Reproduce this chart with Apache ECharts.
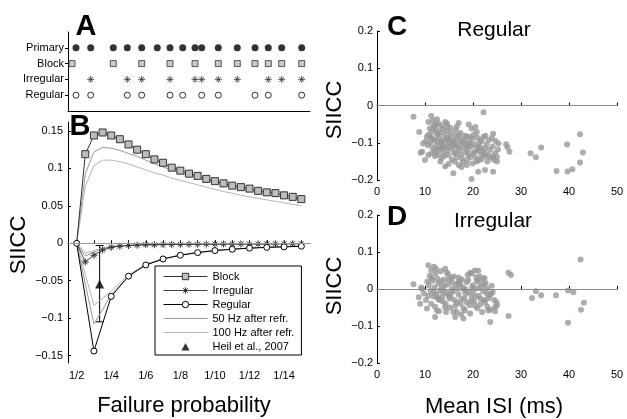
<!DOCTYPE html>
<html>
<head>
<meta charset="utf-8">
<script src="https://cdn.jsdelivr.net/npm/echarts@6/dist/echarts.min.js"></script>
<style>
  html, body { margin: 0; padding: 0; background: #fff; }
  #chart { width: 627px; height: 419px; }
</style>
</head>
<body>
<div id="chart"></div>
<script>
// panel A: spike trains (time in px-like units along the train)
const rowNames = ['', 'Regular', 'Irregular', 'Block', 'Primary'];
const primaryT = [8, 22.7, 45.3, 59.3, 73.7, 89.3, 102, 114.7, 127, 133.7, 150.3, 169.3, 187, 200.3, 213.7, 233.7];
const blockT = [4, 45.3, 73.7, 102, 127, 150.3, 169.3, 187, 200.3, 213.7, 233.7];
const irregularT = [22.7, 59.3, 73.7, 102, 127, 133.7, 150.3, 169.3, 200.3, 213.7, 233.7];
const regularT = [8, 22.7, 59.3, 73.7, 102, 114.7, 133.7, 150.3, 187, 200.3, 233.7];

// panel B: SIICC vs failure probability (1/n)
const nHalf = [2, 2.5, 3, 3.5, 4, 4.5, 5, 5.5, 6, 6.5, 7, 7.5, 8, 8.5, 9, 9.5, 10, 10.5, 11, 11.5, 12, 12.5, 13, 13.5, 14, 14.5, 15];
const nInt = [2, 3, 4, 5, 6, 7, 8, 9, 10, 11, 12, 13, 14, 15];
const failTicks = [2, 4, 6, 8, 10, 12, 14];
const siiccTicks = [-0.15, -0.1, -0.05, 0, 0.05, 0.1, 0.15];

const blockSIICC = [0, 0.119, 0.144, 0.148, 0.144, 0.139, 0.132, 0.125, 0.119, 0.112, 0.1075, 0.101, 0.097, 0.093, 0.090, 0.086, 0.083, 0.080, 0.077, 0.075, 0.073, 0.070, 0.068, 0.067, 0.064, 0.062, 0.059];
const irregularSIICC = [0, -0.025, -0.016, -0.009, -0.0055, -0.004, -0.003, -0.0025, -0.002, -0.002, -0.0018, -0.0016, -0.0015, -0.0014, -0.0013, -0.0012, -0.0011, -0.001, -0.001, -0.0009, -0.0009, -0.0008, -0.0008, -0.0007, -0.0007, -0.0006, -0.0006];
const regularSIICC = [0, -0.144, -0.071, -0.044, -0.029, -0.021, -0.016, -0.0125, -0.0098, -0.008, -0.0065, -0.0055, -0.0048, -0.004];

const block50 = [0, 0.093, 0.122, 0.128, 0.127, 0.124, 0.120, 0.116, 0.111, 0.106, 0.102, 0.098, 0.094, 0.090, 0.087, 0.084, 0.081, 0.078, 0.075, 0.072, 0.070, 0.067, 0.065, 0.063, 0.061, 0.059, 0.057];
const block100 = [0, 0.076, 0.104, 0.111, 0.111, 0.109, 0.106, 0.102, 0.098, 0.094, 0.091, 0.087, 0.084, 0.081, 0.078, 0.075, 0.072, 0.069, 0.067, 0.064, 0.062, 0.060, 0.058, 0.056, 0.054, 0.052, 0.050];
const irregular50 = [0, -0.017, -0.012, -0.007, -0.0045, -0.0035, -0.003, -0.0025, -0.002, -0.002, -0.0018, -0.0016, -0.0015, -0.0014, -0.0013, -0.0012, -0.0011, -0.001, -0.001, -0.0009, -0.0009, -0.0008, -0.0008, -0.0007, -0.0007, -0.0006, -0.0006];
const irregular100 = [0, -0.013, -0.010, -0.006, -0.004, -0.003, -0.0027, -0.0022, -0.0019, -0.0018, -0.0016, -0.0015, -0.0014, -0.0013, -0.0012, -0.0011, -0.001, -0.001, -0.0009, -0.0009, -0.0008, -0.0008, -0.0007, -0.0007, -0.0006, -0.0006, -0.0005];
const regular50 = [0, -0.108, -0.069, -0.044, -0.029, -0.021, -0.016, -0.0125, -0.0098, -0.008, -0.0065, -0.0055, -0.0048, -0.004];
const regular100 = [0, -0.083, -0.064, -0.042, -0.028, -0.0205, -0.0155, -0.012, -0.0095, -0.0078, -0.0063, -0.0053, -0.0046, -0.0039];

const heilN = 3.33, heilMean = -0.0546, heilLow = -0.105, heilHigh = -0.003;

// panels C and D: SIICC vs mean ISI (ms)
const regularISI = [
  [7.6,-0.030],[11.3,-0.028],[22.2,-0.018],[8.8,-0.071],[10.7,-0.044],[11.8,-0.053],[12.8,-0.048],[14.2,-0.044],[14.6,-0.057],[16.6,-0.057],
  [17.0,-0.079],[19.7,-0.062],[20.8,-0.071],[22.2,-0.084],[23.9,-0.088],[25.3,-0.102],[10.4,-0.084],[11.4,-0.088],[12.5,-0.075],[13.5,-0.097],
  [14.9,-0.088],[15.9,-0.106],[17.7,-0.097],[18.7,-0.084],[19.4,-0.106],[21.1,-0.111],[22.5,-0.115],[9.4,-0.124],[10.7,-0.133],[12.1,-0.124],
  [13.5,-0.115],[14.9,-0.133],[16.3,-0.128],[17.7,-0.142],[19.0,-0.133],[20.4,-0.124],[21.8,-0.133],[23.2,-0.133],[24.6,-0.128],[10.0,-0.146],
  [14.2,-0.164],[17.0,-0.160],[18.7,-0.160],[21.1,-0.146],[22.5,-0.137],[24.2,-0.137],[15.9,-0.182],[19.7,-0.197],[21.1,-0.178],[22.5,-0.173],
  [24.2,-0.178],[25.0,-0.150],[26.9,-0.104],[27.2,-0.112],[27.6,-0.124],[32.0,-0.128],[33.1,-0.139],[34.2,-0.113],[37.4,-0.176],[39.6,-0.105],
  [39.7,-0.177],[40.7,-0.171],[42.3,-0.077],[42.9,-0.126],[42.3,-0.153],
  [11.0,-0.062],[11.5,-0.070],[11.9,-0.058],[12.3,-0.066],[12.7,-0.080],[13.1,-0.072],[13.6,-0.063],[14.0,-0.078],[14.5,-0.069],[15.0,-0.085],
  [15.4,-0.074],[15.9,-0.091],[16.3,-0.081],[16.8,-0.095],[17.3,-0.088],[17.8,-0.102],[18.2,-0.093],[18.7,-0.110],[19.2,-0.099],[19.8,-0.090],
  [20.3,-0.104],[20.9,-0.117],[21.4,-0.098],[22.0,-0.121],[22.8,-0.105],[23.5,-0.119],[24.1,-0.110],[10.2,-0.096],[10.6,-0.107],[11.1,-0.101],
  [11.6,-0.114],[12.0,-0.093],[12.4,-0.108],[12.9,-0.118],[13.3,-0.104],[13.8,-0.125],[14.3,-0.112],[14.7,-0.121],[15.2,-0.099],[15.7,-0.116],
  [16.1,-0.127],[16.6,-0.109],[17.1,-0.120],[17.5,-0.131],[18.0,-0.115],[18.5,-0.126],[19.0,-0.118],[19.5,-0.138],[20.0,-0.128],[20.6,-0.140],
  [21.2,-0.123],[21.7,-0.145],[22.4,-0.128],[23.0,-0.150],[23.7,-0.140],[24.4,-0.146],[25.0,-0.138],[10.8,-0.078],[11.3,-0.085],[11.8,-0.092],
  [12.2,-0.052],[12.6,-0.097],[13.0,-0.088],[13.4,-0.055],[13.9,-0.094],[14.4,-0.088],[14.8,-0.101],[15.3,-0.060],[15.8,-0.104],[16.4,-0.066],
  [16.9,-0.112],[17.4,-0.074],[18.4,-0.081],[19.3,-0.084],[20.2,-0.078],[21.0,-0.087],[21.8,-0.095],[22.6,-0.081],[23.3,-0.093],[24.2,-0.076],
  [11.4,-0.128],[12.1,-0.136],[12.8,-0.132],[13.5,-0.141],[14.1,-0.135],[15.6,-0.145],[16.7,-0.139],[17.9,-0.152],[18.8,-0.146],[19.9,-0.156],
  [20.8,-0.150],[13.2,-0.150],[14.9,-0.157],[16.2,-0.150],[17.6,-0.165],[9.6,-0.102],[9.1,-0.127],[11.7,-0.040],[12.5,-0.037],[14.6,-0.048],
  [17.0,-0.047],[19.1,-0.051],[20.5,-0.058],[24.7,-0.095],[25.2,-0.118],[12.4,-0.119],[13.7,-0.108],[15.1,-0.113],[16.0,-0.098],[18.6,-0.104],
  [19.6,-0.110],[21.5,-0.112]
];
const irregularISI = [
  [7.6,0.013],[10.7,0.064],[11.3,0.051],[14.2,0.055],[14.6,0.044],[17.0,0.031],[19.4,0.044],[21.1,0.049],[22.0,0.027],[20.8,0.022],
  [9.4,0.000],[8.7,-0.022],[9.0,-0.040],[10.4,-0.053],[12.5,-0.058],[14.2,-0.049],[15.9,-0.062],[16.3,-0.076],[18.0,-0.080],[12.1,-0.076],
  [24.6,-0.049],[24.9,-0.036],[23.9,0.009],[22.9,-0.013],[21.6,-0.027],[19.7,-0.018],[18.4,0.000],[17.3,0.013],[15.6,0.018],[13.5,0.004],
  [11.8,-0.009],[10.7,-0.018],[12.8,-0.027],[14.9,-0.018],[16.6,-0.036],[18.7,-0.036],[20.4,-0.045],[22.5,-0.036],[23.2,-0.058],
  [27.4,0.044],[27.9,0.038],[33.1,-0.006],[32.3,-0.024],[34.2,-0.017],[37.3,-0.017],[39.8,-0.004],[40.9,-0.009],[42.4,0.080],[43.1,-0.037],
  [42.5,-0.056],[39.8,-0.091],[27.4,-0.073],[23.6,-0.089],
  [10.8,0.010],[11.2,-0.005],[11.6,0.022],[12.0,0.004],[12.4,-0.014],[12.8,0.015],[13.2,-0.004],[13.6,-0.022],[14.0,0.008],[14.5,-0.011],
  [14.9,0.026],[15.3,-0.020],[15.7,0.002],[16.1,-0.030],[16.5,0.012],[17.0,-0.015],[17.4,-0.040],[17.8,0.005],[18.2,-0.024],[18.7,0.018],
  [19.1,-0.008],[19.6,-0.032],[20.0,0.010],[20.5,-0.020],[21.0,0.002],[21.5,-0.042],[22.1,-0.006],[22.6,0.016],[23.2,-0.025],[23.8,-0.012],
  [24.4,-0.030],[25.0,-0.044],[11.0,0.036],[11.4,0.030],[11.8,-0.020],[12.2,0.042],[12.6,0.028],[13.0,-0.030],[13.4,0.020],[13.8,-0.010],
  [14.3,-0.040],[14.7,0.012],[15.1,-0.026],[15.5,0.030],[15.9,-0.006],[16.3,-0.046],[16.8,0.000],[17.2,0.022],[17.6,-0.028],[18.0,-0.052],
  [18.5,-0.012],[18.9,0.038],[19.3,-0.044],[19.8,0.004],[20.2,-0.034],[20.7,0.032],[21.2,-0.018],[21.7,0.008],[22.3,-0.030],[22.9,0.002],
  [23.5,-0.016],[24.1,-0.008],[10.2,-0.030],[10.5,0.020],[9.8,-0.012],[9.2,0.004],[11.3,-0.040],[12.1,-0.048],[12.9,-0.060],[13.7,-0.034],
  [14.4,-0.062],[15.2,-0.050],[16.6,-0.062],[17.5,-0.068],[18.3,-0.058],[19.4,-0.066],[20.9,-0.052],[21.9,-0.062],[23.0,-0.048],[11.9,0.060],
  [12.3,0.054],[13.3,0.048],[14.8,0.040],[16.0,0.034],[17.7,0.026],[19.7,0.042],[20.4,0.050],[21.4,0.034],[22.4,0.030],[23.6,-0.056],
  [24.6,-0.060],[12.7,-0.024],[13.9,0.026],[15.4,-0.010],[16.9,0.016],[18.1,-0.002],[19.0,0.024],[20.1,-0.006],[21.1,0.020],[22.2,0.012]
];

const FONT = '"Liberation Sans", Arial, sans-serif';
const STAR = 'path://M0,5L10,5M5,0L5,10M1.5,1.5L8.5,8.5M8.5,1.5L1.5,8.5';
// triangle icon padded to the legend item box so it is not stretched
const TRI_ICON = 'path://M0,0M44,8M18,8L22,0.5L26,8Z';
const minus = v => (v === 0 ? '0' : (v < 0 ? '\u2212' : '') + Math.abs(+v.toFixed(3)));

const chart = echarts.init(document.getElementById('chart'));

function txt(text, x, y, size, bold, rot) {
  return {
    type: 'text', x: x, y: y, rotation: rot || 0, silent: true,
    style: { text: text, fill: '#000', align: 'center', verticalAlign: 'middle',
      font: (bold ? 'bold ' : '') + size + 'px ' + FONT }
  };
}

const axisLine = { show: true, lineStyle: { color: '#000', width: 1 } };
const axisLabel = { color: '#000', fontSize: 11, fontFamily: FONT };

function isiX(idx) {
  return { gridIndex: idx, type: 'value', min: 0, max: 50, interval: 10,
    axisLine: axisLine, axisTick: { show: true, inside: true, length: 3, lineStyle: { color: '#000' } },
    axisLabel: Object.assign({ margin: 6 }, axisLabel), splitLine: { show: false } };
}
function isiY(idx) {
  return { gridIndex: idx, type: 'value', min: -0.2, max: 0.2, interval: 0.1,
    axisLine: axisLine, axisTick: { show: true, inside: true, length: 3, lineStyle: { color: '#000' } },
    axisLabel: Object.assign({ margin: 4, formatter: minus }, axisLabel), splitLine: { show: false } };
}

const zeroLine = (color) => ({
  silent: true, symbol: 'none', label: { show: false },
  lineStyle: { color: color, width: 1, type: 'solid' },
  data: [{ yAxis: 0 }]
});

const noFx = { emphasis: { disabled: true }, animation: false };

function grayLine(name, xs, ys, color) {
  return Object.assign({
    name: name, type: 'line', xAxisIndex: 1, yAxisIndex: 1, symbol: 'none',
    lineStyle: { color: color, width: 1 }, itemStyle: { color: color },
    data: xs.map((n, i) => [n, ys[i]])
  }, noFx);
}

const option = {
  animation: false,
  grid: [
    { left: 68, top: 32, width: 242, height: 79 },
    { left: 68, top: 122, width: 242, height: 241 },
    { left: 377, top: 31, width: 240, height: 149 },
    { left: 377, top: 215, width: 240, height: 148 }
  ],
  xAxis: [
    { gridIndex: 0, type: 'value', min: 0, max: 242, axisLine: axisLine,
      axisTick: { show: false }, axisLabel: { show: false }, splitLine: { show: false } },
    { gridIndex: 1, type: 'value', min: 1.5, max: 15.5, axisLine: axisLine,
      axisTick: { show: true, inside: true, length: 3, customValues: nInt, lineStyle: { color: '#000' } },
      axisLabel: Object.assign({ margin: 7, customValues: failTicks, formatter: v => '1/' + v }, axisLabel),
      splitLine: { show: false } },
    isiX(2), isiX(3)
  ],
  yAxis: [
    { gridIndex: 0, type: 'value', min: 0, max: 5, axisLine: axisLine,
      axisTick: { show: true, inside: false, length: 3, customValues: [1, 2, 3, 4], lineStyle: { color: '#000' } },
      axisLabel: Object.assign({ margin: 4, customValues: [1, 2, 3, 4], formatter: v => rowNames[v] }, axisLabel),
      splitLine: { show: false } },
    { gridIndex: 1, type: 'value', min: -0.16, max: 0.162, axisLine: axisLine,
      axisTick: { show: true, inside: true, length: 3, customValues: siiccTicks, lineStyle: { color: '#000' } },
      axisLabel: Object.assign({ margin: 5, customValues: siiccTicks, formatter: minus }, axisLabel),
      splitLine: { show: false } },
    isiY(2), isiY(3)
  ],
  legend: {
    orient: 'vertical', left: 155, top: 266,
    padding: [5, 7, 3, 8], itemGap: 3, itemWidth: 44, itemHeight: 8,
    backgroundColor: '#fff', borderColor: '#000', borderWidth: 1, borderRadius: 0,
    selectedMode: false, symbolKeepAspect: true,
    itemStyle: { borderWidth: 1 },
    lineStyle: { width: 1 },
    textStyle: { color: '#000', fontSize: 11, fontFamily: FONT },
    data: [
      { name: 'Block' },
      { name: 'Irregular' },
      { name: 'Regular' },
      { name: '50 Hz after refr.', itemStyle: { opacity: 0 } },
      { name: '100 Hz after refr.', itemStyle: { opacity: 0 } },
      { name: 'Heil et al., 2007', icon: TRI_ICON, itemStyle: { borderWidth: 0 } }
    ]
  },
  graphic: [
    txt('A', 86, 27, 29, true),
    txt('B', 80, 127, 29, true),
    txt('C', 397, 27, 28, true),
    txt('D', 397, 217, 28, true),
    txt('Regular', 494, 30, 21, false),
    txt('Irregular', 493, 221, 21, false),
    txt('SIICC', 19, 245, 22, false, Math.PI / 2),
    txt('SIICC', 335, 110, 22, false, Math.PI / 2),
    txt('SIICC', 335, 286, 22, false, Math.PI / 2),
    txt('Failure probability', 184, 406, 22, false),
    txt('Mean ISI (ms)', 494, 407, 22, false)
  ],
  series: [
    // panel A
    Object.assign({ name: 'trainPrimary', type: 'scatter', xAxisIndex: 0, yAxisIndex: 0,
      symbol: 'circle', symbolSize: 7, itemStyle: { color: '#000' },
      data: primaryT.map(t => [t, 4]) }, noFx),
    Object.assign({ name: 'trainBlock', type: 'scatter', xAxisIndex: 0, yAxisIndex: 0,
      symbol: 'rect', symbolSize: 6, itemStyle: { color: '#bdbdbd', borderColor: '#333', borderWidth: 1 },
      data: blockT.map(t => [t, 3]) }, noFx),
    Object.assign({ name: 'trainIrregular', type: 'scatter', xAxisIndex: 0, yAxisIndex: 0,
      symbol: STAR, symbolSize: 7, itemStyle: { color: '#333', borderColor: '#333', borderWidth: 1 },
      data: irregularT.map(t => [t, 2]) }, noFx),
    Object.assign({ name: 'trainRegular', type: 'scatter', xAxisIndex: 0, yAxisIndex: 0,
      symbol: 'circle', symbolSize: 6, itemStyle: { color: '#fff', borderColor: '#000', borderWidth: 1 },
      data: regularT.map(t => [t, 1]) }, noFx),

    // panel B gray model curves
    grayLine('50 Hz after refr.', nHalf, block50, '#999'),
    grayLine('100 Hz after refr.', nHalf, block100, '#b4b4b4'),
    grayLine('50 Hz after refr.', nHalf, irregular50, '#999'),
    grayLine('100 Hz after refr.', nHalf, irregular100, '#b4b4b4'),
    grayLine('50 Hz after refr.', nInt, regular50, '#999'),
    grayLine('100 Hz after refr.', nInt, regular100, '#b4b4b4'),

    Object.assign({ name: 'Block', type: 'line', xAxisIndex: 1, yAxisIndex: 1,
      symbol: 'rect', symbolSize: 7, showSymbol: true,
      lineStyle: { color: '#333', width: 1 },
      itemStyle: { color: '#bdbdbd', borderColor: '#333', borderWidth: 1 },
      data: nHalf.map((n, i) => i === 0 ? { value: [n, blockSIICC[i]], symbol: 'none' } : [n, blockSIICC[i]]) }, noFx),
    Object.assign({ name: 'Irregular', type: 'line', xAxisIndex: 1, yAxisIndex: 1,
      symbol: STAR, symbolSize: 7, showSymbol: true,
      lineStyle: { color: '#444', width: 1 },
      itemStyle: { color: '#333', borderColor: '#333', borderWidth: 1 },
      data: nHalf.map((n, i) => i === 0 ? { value: [n, irregularSIICC[i]], symbol: 'none' } : [n, irregularSIICC[i]]) }, noFx),
    Object.assign({ name: 'Regular', type: 'line', xAxisIndex: 1, yAxisIndex: 1,
      symbol: 'circle', symbolSize: 6, showSymbol: true,
      lineStyle: { color: '#000', width: 1 },
      itemStyle: { color: '#fff', borderColor: '#000', borderWidth: 1 },
      markLine: zeroLine('#999'),
      data: nInt.map((n, i) => [n, regularSIICC[i]]) }, noFx),

    Object.assign({ name: 'heilRange', type: 'custom', xAxisIndex: 1, yAxisIndex: 1,
      data: [[heilN, heilLow, heilHigh]],
      renderItem: function (params, api) {
        const lo = api.coord([api.value(0), api.value(1)]);
        const hi = api.coord([api.value(0), api.value(2)]);
        const st = { stroke: '#000', lineWidth: 1 };
        return { type: 'group', children: [
          { type: 'line', shape: { x1: lo[0], y1: lo[1], x2: hi[0], y2: hi[1] }, style: st },
          { type: 'line', shape: { x1: lo[0] - 4, y1: lo[1], x2: lo[0] + 4, y2: lo[1] }, style: st },
          { type: 'line', shape: { x1: hi[0] - 4, y1: hi[1], x2: hi[0] + 4, y2: hi[1] }, style: st }
        ] };
      } }, noFx),
    Object.assign({ name: 'Heil et al., 2007', type: 'scatter', xAxisIndex: 1, yAxisIndex: 1,
      symbol: 'triangle', symbolSize: 9, itemStyle: { color: '#000' },
      data: [[heilN, heilMean]] }, noFx),

    // panels C and D
    Object.assign({ name: 'regularCells', type: 'scatter', xAxisIndex: 2, yAxisIndex: 2,
      symbolSize: 6, itemStyle: { color: '#999' }, markLine: zeroLine('#888'),
      data: regularISI }, noFx),
    Object.assign({ name: 'irregularCells', type: 'scatter', xAxisIndex: 3, yAxisIndex: 3,
      symbolSize: 6, itemStyle: { color: '#999' }, markLine: zeroLine('#888'),
      data: irregularISI }, noFx)
  ]
};

chart.setOption(option);
</script>
</body>
</html>
